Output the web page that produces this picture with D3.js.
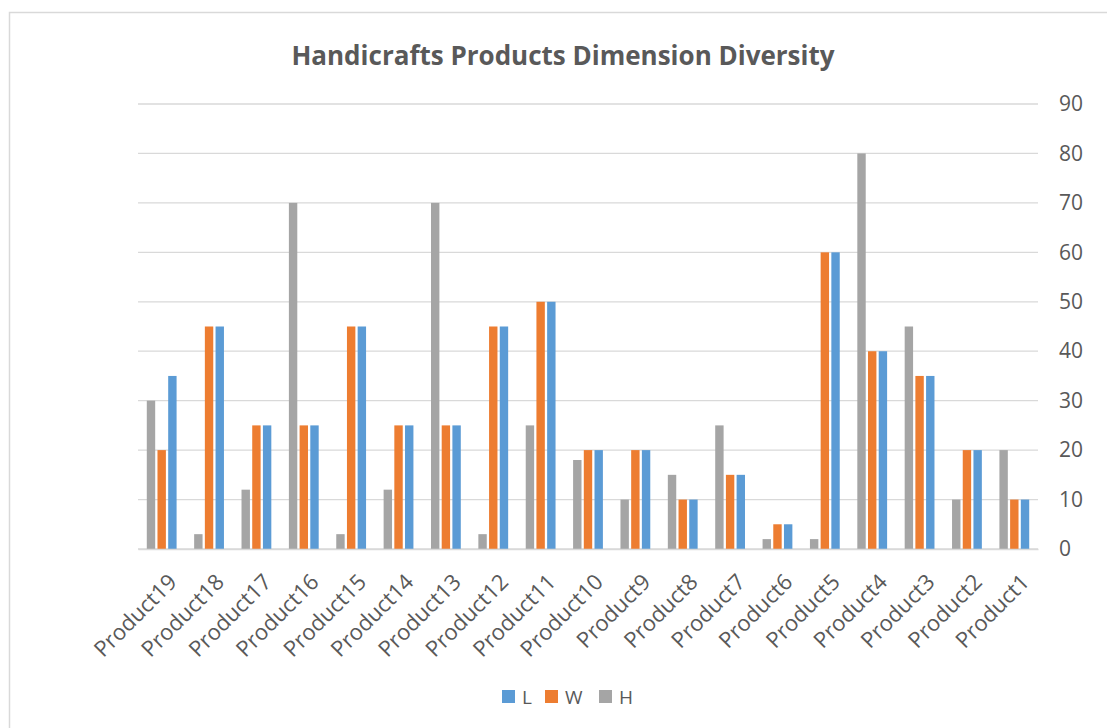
<!DOCTYPE html>
<html>
<head>
<meta charset="utf-8">
<script src="https://cdn.jsdelivr.net/npm/d3@7"></script>
<style>
  body { margin: 0; background: #fff; }
  text { font-family: "Open Sans", sans-serif; fill: #595959; }
</style>
</head>
<body>
<div id="chart"></div>
<script>
const products = ["Product19", "Product18", "Product17", "Product16", "Product15", "Product14",
    "Product13", "Product12", "Product11", "Product10", "Product9", "Product8", "Product7",
    "Product6", "Product5", "Product4", "Product3", "Product2", "Product1"];
const valuesH = [30, 3, 12, 70, 3, 12, 70, 3, 25, 18, 10, 15, 25, 2, 2, 80, 45, 10, 20];
const valuesW = [20, 45, 25, 25, 45, 25, 25, 45, 50, 20, 20, 10, 15, 5, 60, 40, 35, 20, 10];
const valuesL = [35, 45, 25, 25, 45, 25, 25, 45, 50, 20, 20, 10, 15, 5, 60, 40, 35, 20, 10];
const yTicks = [0, 10, 20, 30, 40, 50, 60, 70, 80, 90];

// drawing order inside a group: H, W, L ; legend order: L, W, H
const series = [
    { name: "H", color: "#A5A5A5", values: valuesH },
    { name: "W", color: "#ED7D31", values: valuesW },
    { name: "L", color: "#5B9BD5", values: valuesL }
];
const legendOrder = ["L", "W", "H"];

const width = 1107;
const height = 728;
const marginLeft = 138;
const marginRight = 1107 - 1038;
const marginTop = 104;
const marginBottom = 728 - 549;

const svg = d3.select("#chart")
    .append("svg")
    .attr("width", width)
    .attr("height", height);

// chart frame
svg.append("rect")
    .attr("x", 9.5)
    .attr("y", 12.5)
    .attr("width", width + 20)
    .attr("height", height + 20)
    .attr("fill", "none")
    .attr("stroke", "#D9D9D9")
    .attr("stroke-width", 1.5);

const x = d3.scaleBand()
    .domain(products)
    .range([marginLeft, width - marginRight]);

const barStep = 10.7;
const barWidth = 8.4;

const y = d3.scaleLinear()
    .domain([0, 90])
    .range([height - marginBottom, marginTop]);

// gridlines
svg.append("g")
    .selectAll("line")
    .data(yTicks)
    .join("line")
    .attr("x1", marginLeft)
    .attr("x2", width - marginRight)
    .attr("y1", d => y(d))
    .attr("y2", d => y(d))
    .attr("stroke", "#D9D9D9")
    .attr("stroke-width", 1.3);

// right axis labels
svg.append("g")
    .attr("transform", `translate(${width - marginRight},0)`)
    .call(d3.axisRight(y).tickValues(yTicks).tickSize(0).tickPadding(21))
    .call(g => g.select(".domain").remove())
    .call(g => g.selectAll("text")
        .attr("font-size", 21)
        .attr("font-family", "Open Sans, sans-serif")
        .attr("fill", "#595959"));

// bars
series.forEach((s, i) => {
    svg.append("g")
        .selectAll("rect")
        .data(products)
        .join("rect")
        .attr("x", (d, j) => x(d) + x.bandwidth() / 2 + (i - 1) * barStep - barWidth / 2)
        .attr("y", (d, j) => y(s.values[j]))
        .attr("width", barWidth)
        .attr("height", (d, j) => y(0) - y(s.values[j]))
        .attr("fill", s.color);
});

// category axis
svg.append("g")
    .attr("transform", `translate(0,${height - marginBottom})`)
    .call(d3.axisBottom(x).tickSize(0).tickPadding(0))
    .call(g => g.select(".domain")
        .attr("stroke", "#D9D9D9")
        .attr("stroke-width", 1.3))
    .call(g => g.selectAll("text")
        .attr("font-size", 22)
        .attr("font-family", "Open Sans, sans-serif")
        .attr("fill", "#595959")
        .attr("text-anchor", "end")
        .attr("dy", "0.35em")
        .attr("transform", "translate(11,29) rotate(-45)"));

// title
svg.append("text")
    .attr("x", 563)
    .attr("y", 65)
    .attr("text-anchor", "middle")
    .attr("font-size", 26)
    .attr("font-weight", "bold")
    .text("Handicrafts Products Dimension Diversity");

// legend
const legendX = [502, 545, 599];
const legend = svg.append("g");
legendOrder.forEach((name, i) => {
    const s = series.find(d => d.name === name);
    legend.append("rect")
        .attr("x", legendX[i])
        .attr("y", 690)
        .attr("width", 13)
        .attr("height", 13)
        .attr("fill", s.color);
    legend.append("text")
        .attr("x", legendX[i] + 20)
        .attr("y", 704)
        .attr("font-size", 19)
        .text(name);
});
</script>
</body>
</html>
